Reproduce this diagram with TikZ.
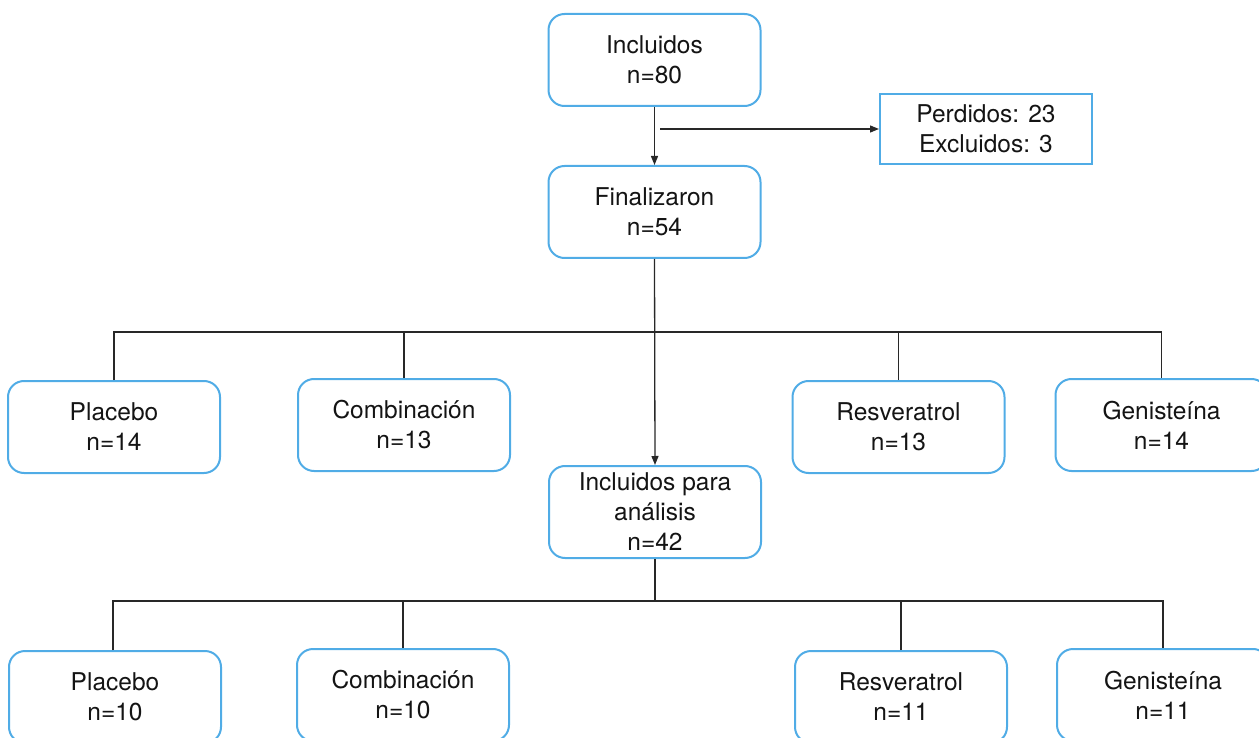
\documentclass[tikz,border=0pt]{standalone}
\usepackage{fontspec}
\setmainfont{TeX Gyre Heros}
\usetikzlibrary{arrows.meta}
\definecolor{boxblue}{RGB}{80,172,230}
\definecolor{linegray}{RGB}{40,40,40}
\tikzset{
  rbox/.style={draw=boxblue, line width=2pt, rounded corners=16pt, fill=white,
    minimum width=212pt, minimum height=92pt, align=center, inner sep=0pt,
    font=\fontsize{24.5}{30}\selectfont, text=black!92},
  sbox/.style={draw=boxblue, line width=2pt, fill=white,
    minimum width=212pt, minimum height=70pt, align=center, inner sep=0pt,
    font=\fontsize{24.5}{30}\selectfont, text=black!92},
  conn/.style={draw=linegray, line width=1.3pt},
  arr/.style={conn, -{Triangle[length=9pt,width=7pt]}}
}
\begin{document}
\begin{tikzpicture}[x=1pt,y=-1pt]
\useasboundingbox (0,0) rectangle (1259,738);
\node[rbox] (inc) at (654.5,60) {Incluidos\\n=80};
\node[sbox] (perd) at (986,129) {Perdidos: 23\\Excluidos: 3};
\node[rbox] (fin) at (654.5,212) {Finalizaron\\n=54};
\node[rbox] (pl1) at (114,427) {Placebo\\n=14};
\node[rbox] (co1) at (404,425) {Combinación\\n=13};
\node[rbox] (re1) at (898.5,427) {Resveratrol\\n=13};
\node[rbox] (ge1) at (1161.5,425) {Genisteína\\n=14};
\node[rbox] (ana) at (655,512) {Incluidos para\\análisis\\n=42};
\node[rbox] (pl2) at (115,697) {Placebo\\n=10};
\node[rbox] (co2) at (403,695) {Combinación\\n=10};
\node[rbox] (re2) at (901,697) {Resveratrol\\n=11};
\node[rbox] (ge2) at (1163,695) {Genisteína\\n=11};
\coordinate (split) at (660,129);
\coordinate (bar1) at (655,332);
\coordinate (bar2) at (655,601);
% top
\draw[arr] (inc.south) -- (fin.north);
\draw[arr] (split) -- (perd.west);
% first level
\draw[arr] (fin.south) -- (ana.north);
\draw[conn] (pl1.north) |- (bar1) -| (ge1.north);
\draw[conn] (co1.north) -- (co1.north |- bar1);
\draw[conn] (re1.north) -- (re1.north |- bar1);
% second level
\draw[conn] (ana.south) -- (bar2);
\draw[conn] (pl2.north -| 113,0) |- (bar2) -| (ge2.north);
\draw[conn] (co2.north) -- (co2.north |- bar2);
\draw[conn] (re2.north) -- (re2.north |- bar2);
\end{tikzpicture}
\end{document}
